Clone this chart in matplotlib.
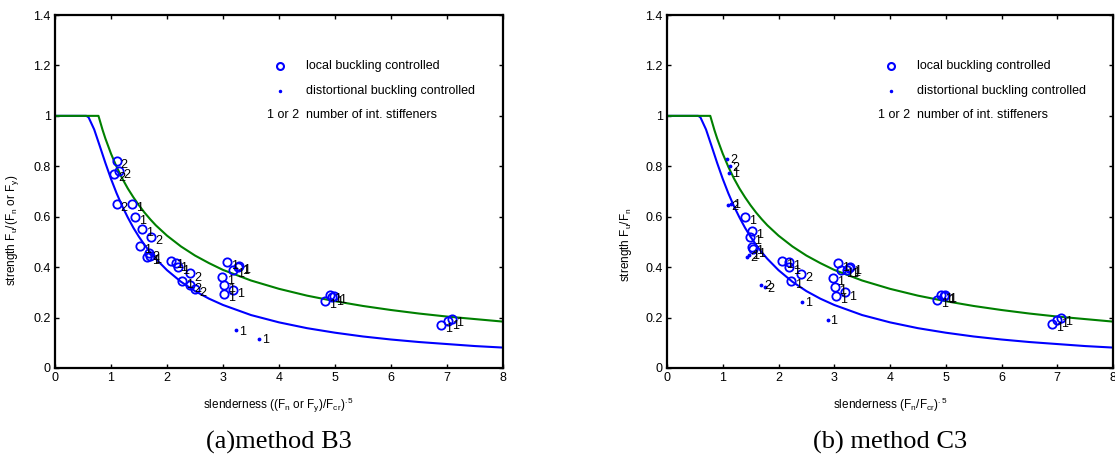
import matplotlib
matplotlib.use("Agg")
import matplotlib.pyplot as plt

plt.rcParams['font.family'] = ['Liberation Sans', 'DejaVu Sans']
plt.rcParams['mathtext.fontset'] = 'custom'
plt.rcParams['mathtext.rm'] = 'Liberation Sans'
plt.rcParams['mathtext.it'] = 'Liberation Sans'

# ---- design curves ----
dist_x = [0, 0.56, 0.6, 0.7, 0.8, 0.9, 1.0, 1.1, 1.2, 1.3, 1.4, 1.5, 1.6, 1.7, 1.8, 2.0, 2.25,
          2.5, 2.75, 3.0, 3.5, 4.0, 4.5, 5.0, 5.5, 6.0, 6.5, 7.0, 7.5, 8.0]
dist_y = [1.0, 1.0, 0.994, 0.946, 0.880, 0.813, 0.750, 0.693, 0.642, 0.597, 0.556, 0.520, 0.488,
          0.459, 0.433, 0.388, 0.342, 0.305, 0.275, 0.250, 0.210, 0.181, 0.158, 0.140, 0.125,
          0.113, 0.103, 0.095, 0.087, 0.081]
local_x = [0, 0.776, 0.85, 0.9, 1.0, 1.1, 1.2, 1.3, 1.4, 1.5, 1.6, 1.7, 1.8, 2.0, 2.25, 2.5,
           2.75, 3.0, 3.5, 4.0, 4.5, 5.0, 5.5, 6.0, 6.5, 7.0, 7.5, 8.0]
local_y = [1.0, 1.0, 0.944, 0.910, 0.850, 0.798, 0.752, 0.712, 0.677, 0.645, 0.616, 0.590,
           0.566, 0.525, 0.482, 0.446, 0.416, 0.389, 0.347, 0.314, 0.287, 0.265, 0.246, 0.230,
           0.216, 0.204, 0.194, 0.184]

# ---- method B3 test points ----
b3_local_x = [1.10, 1.05, 1.15, 1.10, 1.37, 1.43, 1.56, 1.72, 1.52, 1.67, 1.70, 1.65,
              2.08, 2.16, 2.19, 2.41, 2.26, 2.41, 2.50, 3.07, 3.18, 3.26, 3.28,
              2.99, 3.02, 3.02, 3.17, 4.82, 4.91, 4.95, 4.99, 6.89, 7.02, 7.09]
b3_local_y = [0.82, 0.77, 0.78, 0.65, 0.65, 0.60, 0.55, 0.52, 0.485, 0.455, 0.445, 0.44,
              0.425, 0.415, 0.40, 0.375, 0.345, 0.33, 0.315, 0.42, 0.39, 0.40, 0.405,
              0.36, 0.33, 0.295, 0.31, 0.265, 0.29, 0.28, 0.285, 0.17, 0.185, 0.195]
b3_local_n = ['2', '2', '2', '2', '1', '1', '1', '2', '1', '2', '1', '1',
              '1', '1', '1', '2', '1', '2', '2', '1', '1', '1', '1',
              '1', '1', '1', '1', '1', '1', '1', '1', '1', '1', '1']
b3_dist_x = [3.23, 3.64]
b3_dist_y = [0.15, 0.115]
b3_dist_n = ['1', '1']

# ---- method C3 test points ----
c3_local_x = [1.40, 1.52, 1.49, 1.52, 1.55, 2.06, 2.18, 2.18, 2.40, 2.23,
              3.07, 3.13, 3.22, 3.26, 3.28, 2.97, 3.02, 3.03, 3.19,
              4.85, 4.92, 4.96, 4.99, 6.90, 7.00, 7.07]
c3_local_y = [0.60, 0.545, 0.52, 0.48, 0.47, 0.425, 0.42, 0.40, 0.373, 0.346,
              0.415, 0.39, 0.39, 0.395, 0.40, 0.356, 0.323, 0.286, 0.30,
              0.27, 0.29, 0.285, 0.29, 0.175, 0.19, 0.20]
c3_local_n = ['1', '1', '1', '1', '1', '1', '1', '1', '2', '1',
              '1', '1', '1', '1', '1', '1', '1', '1', '1',
              '1', '1', '1', '1', '1', '1', '1']
c3_dist_x = [1.08, 1.13, 1.12, 1.10, 1.14, 1.44, 1.47, 1.69, 1.75, 2.42, 2.88]
c3_dist_y = [0.83, 0.80, 0.775, 0.645, 0.65, 0.44, 0.45, 0.33, 0.32, 0.263, 0.19]
c3_dist_n = ['2', '2', '1', '2', '1', '2', '1', '2', '2', '1', '1']

xticks = [0, 1, 2, 3, 4, 5, 6, 7, 8]
yticks = [0, 0.2, 0.4, 0.6, 0.8, 1, 1.2, 1.4]
ytick_labels = ['0', '0.2', '0.4', '0.6', '0.8', '1', '1.2', '1.4']

BLUE = '#0000ff'
GREEN = '#008000'

fig = plt.figure(figsize=(11.15, 4.62), dpi=100)
ax1 = fig.add_axes([55 / 1115, 94 / 462, 448 / 1115, 353 / 462])
ax2 = fig.add_axes([667 / 1115, 94 / 462, 446 / 1115, 353 / 462])


def draw(ax, lx, ly, ln, dx, dy, dn, ylab, xlab, ylab_y, caption):
    ax.plot(dist_x, dist_y, color=BLUE, lw=1.5)
    ax.plot(local_x, local_y, color=GREEN, lw=1.5)
    ax.plot(lx, ly, 'o', mfc='none', mec=BLUE, mew=1.3, ms=6, ls='none')
    ax.plot(dx, dy, '.', color=BLUE, ms=3.5, ls='none')
    for x, y, n in zip(lx, ly, ln):
        ax.annotate(n, (x, y), xytext=(3, -3), textcoords='offset points',
                    fontsize=9, va='center', ha='left')
    for x, y, n in zip(dx, dy, dn):
        ax.annotate(n, (x, y), xytext=(2, -1), textcoords='offset points',
                    fontsize=9, va='center', ha='left')
    ax.set_xlim(0, 8)
    ax.set_ylim(0, 1.4)
    ax.set_xticks(xticks)
    ax.set_yticks(yticks)
    ax.set_yticklabels(ytick_labels)
    ax.tick_params(direction='in', length=3, width=1, labelsize=9, top=True, right=True,
                   pad=3)
    for s in ax.spines.values():
        s.set_linewidth(1.6)
    ax.set_ylabel(ylab, fontsize=8.5)
    ax.yaxis.set_label_coords(-0.075, ylab_y)
    ax.set_xlabel(xlab, fontsize=8.5)
    ax.xaxis.set_label_coords(0.5, -0.08)
    # legend
    ax.plot([0.503], [0.855], 'o', mfc='none', mec=BLUE, mew=1.5, ms=5,
            transform=ax.transAxes, clip_on=False)
    ax.plot([0.503], [0.785], '.', color=BLUE, ms=3, transform=ax.transAxes, clip_on=False)
    ax.text(0.56, 0.855, 'local buckling controlled', transform=ax.transAxes,
            fontsize=9, va='center', ha='left')
    ax.text(0.56, 0.785, 'distortional buckling controlled', transform=ax.transAxes,
            fontsize=9, va='center', ha='left')
    ax.text(0.545, 0.717, '1 or 2', transform=ax.transAxes, fontsize=9,
            va='center', ha='right')
    ax.text(0.56, 0.717, 'number of int. stiffeners', transform=ax.transAxes,
            fontsize=9, va='center', ha='left')
    ax.text(0.5, -0.21, caption, transform=ax.transAxes, fontsize=19,
            family='Liberation Serif', ha='center', va='center')


draw(ax1, b3_local_x, b3_local_y, b3_local_n, b3_dist_x, b3_dist_y, b3_dist_n,
     r'strength F$_u$/(F$_n$ or F$_y$)',
     r'slenderness ((F$_n$ or F$_y$)/F$_{cr}$)$^{.5}$', 0.39, '(a)method B3')
draw(ax2, c3_local_x, c3_local_y, c3_local_n, c3_dist_x, c3_dist_y, c3_dist_n,
     r'strength F$_u$/F$_n$', r'slenderness (F$_n$/F$_{cr}$)$^{.5}$', 0.35,
     '(b) method C3')

fig.savefig('out.png', dpi=100)
